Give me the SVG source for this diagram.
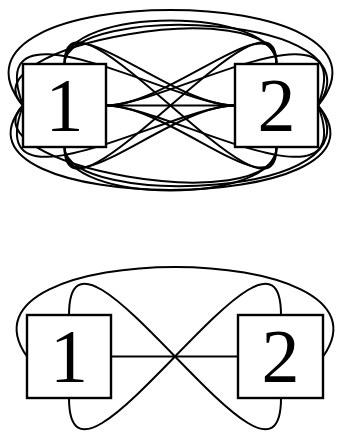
<svg xmlns="http://www.w3.org/2000/svg" width="346" height="432" viewBox="0 0 346 432">
<style>
.e{fill:none;stroke:#000;stroke-width:2}
.b{fill:#fff;stroke:#000;stroke-width:2.4}
.t{font-family:"Liberation Serif","DejaVu Serif",serif;font-size:76px;text-anchor:middle;fill:#000}
</style>
<rect width="346" height="432" fill="#fff"/>
<g id="connectors">
<g id="top-edges">
<path class="e" d="M23,105.5 C-82,-22 423,-22 318,105.5"/>
<path class="e" d="M64.5,64 C64.5,6 276.5,6 276.5,64"/>
<path class="e" d="M64.5,64 C64.5,2 385,12 318,105.5"/>
<path class="e" d="M23,105.5 C-37,45.5 276.5,-10 276.5,64"/>
<path class="e" d="M64.5,64 C64.5,0 170,105.5 235,105.5"/>
<path class="e" d="M106,105.5 C171,105.5 276.5,0 276.5,64"/>
<path class="e" d="M64.5,64 C64.5,-36 276.5,247 276.5,147"/>
<path class="e" d="M23,105.5 C-20,-10 175,105.5 235,105.5"/>
<path class="e" d="M106,105.5 C166,105.5 361,-10 318,105.5"/>
<path class="e" d="M23,105.5 C-72,218 413,218 318,105.5"/>
<path class="e" d="M64.5,147 C64.5,205 276.5,205 276.5,147"/>
<path class="e" d="M64.5,147 C64.5,209 385,199 318,105.5"/>
<path class="e" d="M23,105.5 C-37,165.5 276.5,221 276.5,147"/>
<path class="e" d="M64.5,147 C64.5,211 170,105.5 235,105.5"/>
<path class="e" d="M106,105.5 C171,105.5 276.5,211 276.5,147"/>
<path class="e" d="M64.5,147 C64.5,247 276.5,-36 276.5,64"/>
<path class="e" d="M23,105.5 C-20,221 175,105.5 235,105.5"/>
<path class="e" d="M106,105.5 C166,105.5 361,221 318,105.5"/>
<path class="e" d="M106,105.5 H235"/>
</g>
<g id="bottom-edges">
<path class="e" d="M111,356.5 H238"/>
<path class="e" d="M69,315 C69,180 281,533 281,398"/>
<path class="e" d="M69,398 C69,533 281,180 281,315"/>
<path class="e" d="M27,356.5 C-58,237 408,237 323,356.5"/>
</g>
</g>
<g id="node-top-1"><rect class="b" x="23" y="64" width="83" height="83"/><text class="t" x="64.5" y="131">1</text></g>
<g id="node-top-2"><rect class="b" x="235" y="64" width="83" height="83"/><text class="t" x="276.5" y="131">2</text></g>
<g id="node-bottom-1"><rect class="b" x="27" y="315" width="84" height="83"/><text class="t" x="69" y="382">1</text></g>
<g id="node-bottom-2"><rect class="b" x="238" y="315" width="85" height="83"/><text class="t" x="280.5" y="382">2</text></g>
</svg>
